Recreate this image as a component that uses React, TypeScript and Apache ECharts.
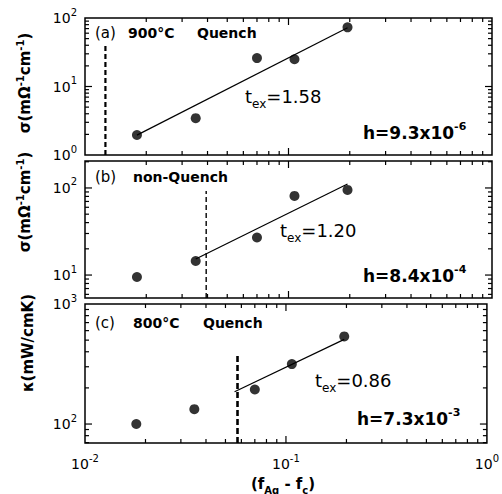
import React, { useEffect, useRef } from "react";
import * as echarts from "echarts";

const FONT = "DejaVu Sans";

// x values (f_Ag - f_c), shared by the three panels
const xData = [0.018, 0.035, 0.07, 0.107, 0.195];
// (a) 900°C quench conductivity
const sigmaQuench900 = [1.96, 3.45, 26, 25, 73];
// (b) non-quench conductivity
const sigmaNonQuench = [9.5, 14.5, 27, 81, 95];
// (c) 800°C quench thermal conductivity
const kappaQuench800 = [100, 133, 194, 316, 537];

// fitted power-law lines
const fitAx = [0.018, 0.195];
const fitAy = [1.95, 72];
const fitBx = [0.035, 0.195];
const fitBy = [15.3, 111];
const fitCx = [0.0555, 0.195];
const fitCy = [186, 507];

// dashed percolation thresholds
const dashAx = 0.0126;
const dashAy = [1, 42];
const dashBx = 0.0394;
const dashBy = [5.45, 92];
const dashCx = 0.0574;
const dashCy = [69.5, 380];

// axis ranges
const xRange = [0.01, 1];
const yRangeA = [1, 100];
const yRangeB = [5.45, 204];
const yRangeC = [69.5, 1000];

// annotation texts
const exponentsA = ["1.58", "9.3", "-6"];
const exponentsB = ["1.20", "8.4", "-4"];
const exponentsC = ["0.86", "7.3", "-3"];

function logTicks(lo: number, hi: number): number[][] {
  const out: number[][] = [];
  const e0 = Math.floor(Math.log10(lo));
  const e1 = Math.ceil(Math.log10(hi));
  for (let e = e0; e <= e1; e++) {
    for (let m = 1; m <= 9; m++) {
      const v = m * Math.pow(10, e);
      if (v > lo * 1.0001 && v < hi * 0.9999) out.push([v, m === 1 ? 7 : 4]);
    }
  }
  return out;
}

const GRID_LEFT = 85;
const GRID_WIDTH = 407;
const grids = [
  { top: 18, height: 137 },
  { top: 161, height: 137 },
  { top: 304, height: 139 },
];

const powFormatter = (v: number) => {
  const l = Math.log10(v);
  const e = Math.round(l);
  if (Math.abs(l - e) > 1e-6) return "";
  return `{b|10}{s|${e}}`;
};

const labelRich = {
  b: { fontFamily: FONT, fontSize: 14, color: "#000" },
  s: { fontFamily: FONT, fontSize: 10, color: "#000", padding: [0, 0, 12, 0] },
};

export default function App() {
  const ref = useRef<HTMLDivElement>(null);
  useEffect(() => {
    if (!ref.current) return;
    const chart = echarts.init(ref.current, undefined, { renderer: "svg" });
    const yRanges = [yRangeA, yRangeB, yRangeC];
    const ys = [sigmaQuench900, sigmaNonQuench, kappaQuench800];
    const fits = [
      [fitAx, fitAy],
      [fitBx, fitBy],
      [fitCx, fitCy],
    ];
    const dashes: [number, number[], number, number[]][] = [
      [dashAx, dashAy, 2.2, [5, 3]],
      [dashBx, dashBy, 1.4, [5, 3]],
      [dashCx, dashCy, 2.6, [6, 3]],
    ];

    const series: any[] = [];
    grids.forEach((_, i) => {
      series.push({
        type: "scatter",
        xAxisIndex: i,
        yAxisIndex: i,
        symbol: "circle",
        symbolSize: 10,
        itemStyle: { color: "#000" },
        data: xData.map((x, k) => [x, ys[i][k]]),
        z: 5,
      });
      series.push({
        type: "line",
        xAxisIndex: i,
        yAxisIndex: i,
        showSymbol: false,
        lineStyle: { color: "#000", width: 1.2 },
        data: fits[i][0].map((x, k) => [x, fits[i][1][k]]),
      });
      const d = dashes[i];
      series.push({
        type: "line",
        xAxisIndex: i,
        yAxisIndex: i,
        showSymbol: false,
        lineStyle: { color: "#000", width: d[2], type: d[3] },
        data: d[1].map((y) => [d[0], y]),
      });
      const yr = yRanges[i];
      series.push({
        type: "custom",
        xAxisIndex: i,
        yAxisIndex: i,
        silent: true,
        z: 6,
        data: logTicks(xRange[0], xRange[1]).map(([v, len]) => [v, yr[0], len]),
        renderItem: (params: any, api: any) => {
          const cs = params.coordSys;
          const p = api.coord([api.value(0), api.value(1)]);
          const len = api.value(2);
          const st = { stroke: "#000", lineWidth: 1.2 };
          return {
            type: "group",
            children: [
              { type: "line", shape: { x1: p[0], y1: cs.y + cs.height, x2: p[0], y2: cs.y + cs.height - len }, style: st },
              { type: "line", shape: { x1: p[0], y1: cs.y, x2: p[0], y2: cs.y + len }, style: st },
            ],
          };
        },
      });
      series.push({
        type: "custom",
        xAxisIndex: i,
        yAxisIndex: i,
        silent: true,
        z: 6,
        data: logTicks(yr[0], yr[1]).map(([v, len]) => [xRange[0], v, len]),
        renderItem: (params: any, api: any) => {
          const cs = params.coordSys;
          const p = api.coord([api.value(0), api.value(1)]);
          const len = api.value(2);
          const st = { stroke: "#000", lineWidth: 1.2 };
          return {
            type: "group",
            children: [
              { type: "line", shape: { x1: cs.x, y1: p[1], x2: cs.x + len, y2: p[1] }, style: st },
              { type: "line", shape: { x1: cs.x + cs.width, y1: p[1], x2: cs.x + cs.width - len, y2: p[1] }, style: st },
            ],
          };
        },
      });
    });

    const txt = (x: number, y: number, text: string, size: number, bold: boolean) => ({
      type: "text",
      x,
      y,
      style: {
        text,
        fontFamily: FONT,
        fontSize: size,
        fontWeight: bold ? "bold" : "normal",
        fill: "#000",
        align: "left",
        verticalAlign: "middle",
      },
    });
    const tex = (x: number, y: number, val: string) => ({
      type: "text",
      x,
      y,
      style: {
        text: `{t|t}{s|ex}{n|=${val}}`,
        align: "left",
        verticalAlign: "middle",
        rich: {
          t: { fontFamily: FONT, fontSize: 18, fill: "#000" },
          s: { fontFamily: FONT, fontSize: 12, fill: "#000", padding: [16, 0, 0, 0] },
          n: { fontFamily: FONT, fontSize: 18, fill: "#000" },
        },
      },
    });
    const hTxt = (x: number, y: number, mant: string, exp: string) => ({
      type: "text",
      x,
      y,
      style: {
        text: `{h|h=${mant}x10}{p|${exp}}`,
        align: "left",
        verticalAlign: "middle",
        rich: {
          h: { fontFamily: FONT, fontSize: 17, fontWeight: "bold", fill: "#000" },
          p: { fontFamily: FONT, fontSize: 11, fontWeight: "bold", fill: "#000", padding: [0, 0, 14, 0] },
        },
      },
    });
    const yName = (x: number, y: number, text: string) => ({
      type: "text",
      x,
      y,
      rotation: Math.PI / 2,
      style: {
        text,
        align: "center",
        verticalAlign: "middle",
        rich: {
          b: { fontFamily: FONT, fontSize: 15, fontWeight: "bold", fill: "#000" },
          p: { fontFamily: FONT, fontSize: 10, fontWeight: "bold", fill: "#000", padding: [0, 0, 10, 0] },
        },
      },
    });

    const graphic: any[] = [
      txt(95, 33, "(a)", 15, false),
      txt(128, 33, "900°C", 14, true),
      txt(197, 33, "Quench", 14, true),
      tex(245, 96, exponentsA[0]),
      hTxt(363, 133, exponentsA[1], exponentsA[2]),
      txt(95, 177, "(b)", 15, false),
      txt(133, 177, "non-Quench", 14, true),
      tex(280, 230, exponentsB[0]),
      hTxt(363, 276, exponentsB[1], exponentsB[2]),
      txt(95, 323, "(c)", 15, false),
      txt(133, 323, "800°C", 14, true),
      txt(203, 323, "Quench", 14, true),
      tex(315, 380, exponentsC[0]),
      hTxt(357, 419, exponentsC[1], exponentsC[2]),
      yName(25, 83, "{b|σ(mΩ}{p|-1}{b|cm}{p|-1}{b|)}"),
      yName(25, 202, "{b|σ(mΩ}{p|-1}{b|cm}{p|-1}{b|)}"),
      yName(28, 343, "{b|κ(mW/cmK)}"),
      {
        type: "text",
        x: 283,
        y: 484,
        style: {
          text: "{b|(f}{s|Ag}{b| - f}{s|c}{b|)}",
          align: "center",
          verticalAlign: "middle",
          rich: {
            b: { fontFamily: FONT, fontSize: 15, fontWeight: "bold", fill: "#000" },
            s: { fontFamily: FONT, fontSize: 10, fontWeight: "bold", fill: "#000", padding: [12, 0, 0, 0] },
          },
        },
      },
    ];

    chart.setOption({
      animation: false,
      backgroundColor: "#fff",
      grid: grids.map((g) => ({
        left: GRID_LEFT,
        width: GRID_WIDTH,
        top: g.top,
        height: g.height,
        show: true,
        borderColor: "#000",
        borderWidth: 1.5,
        backgroundColor: "transparent",
      })),
      xAxis: grids.map((_, i) => ({
        type: "log",
        logBase: 10,
        gridIndex: i,
        min: xRange[0],
        max: xRange[1],
        axisLine: { show: false },
        axisTick: { show: false },
        splitLine: { show: false },
        axisLabel: {
          show: i === 2,
          formatter: powFormatter,
          margin: 10,
          rich: labelRich,
          showMinLabel: true,
          showMaxLabel: true,
        },
      })),
      yAxis: grids.map((_, i) => ({
        type: "log",
        logBase: 10,
        gridIndex: i,
        min: yRanges[i][0],
        max: yRanges[i][1],
        axisLine: { show: false },
        axisTick: { show: false },
        splitLine: { show: false },
        axisLabel: {
          show: true,
          formatter: powFormatter,
          margin: 8,
          rich: labelRich,
        },
      })),
      series,
      graphic,
    });
    return () => chart.dispose();
  }, []);
  return (
    <div
      ref={ref}
      style={{ position: "fixed", left: 0, top: 0, width: 502, height: 494 }}
    />
  );
}
